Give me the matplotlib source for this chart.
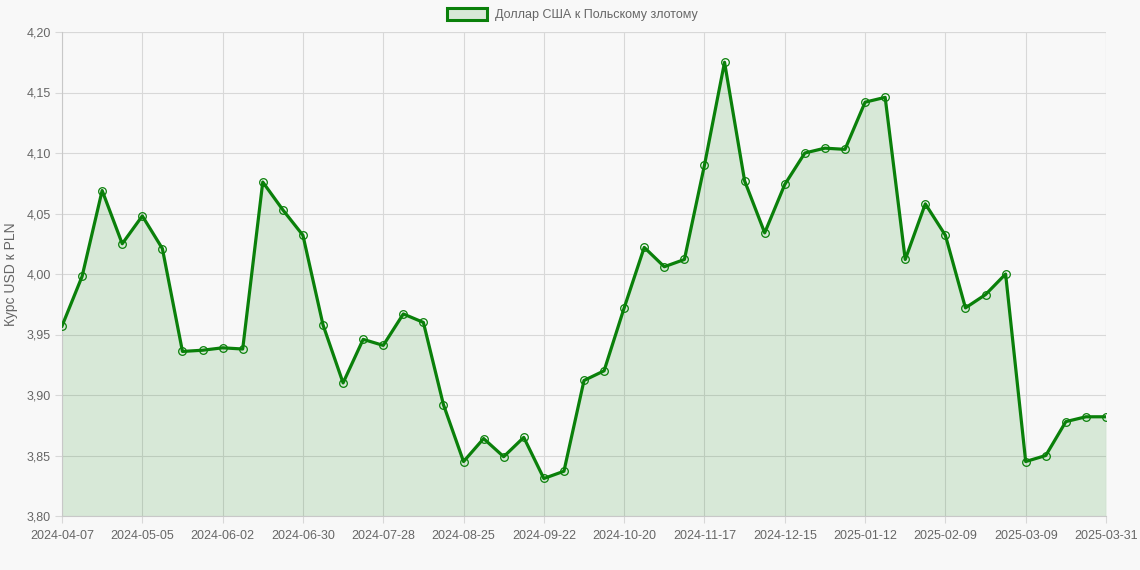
import numpy as np
import matplotlib
matplotlib.use("Agg")
from matplotlib import pyplot as plt
from matplotlib.patches import Patch

plt.rcParams['font.family'] = ['Liberation Sans', 'DejaVu Sans']

# weekly USD/PLN rate
dates = ["2024-04-07", "2024-04-14", "2024-04-21", "2024-04-28", "2024-05-05", "2024-05-12",
         "2024-05-19", "2024-05-26", "2024-06-02", "2024-06-09", "2024-06-16", "2024-06-23",
         "2024-06-30", "2024-07-07", "2024-07-14", "2024-07-21", "2024-07-28", "2024-08-04",
         "2024-08-11", "2024-08-18", "2024-08-25", "2024-09-01", "2024-09-08", "2024-09-15",
         "2024-09-22", "2024-09-29", "2024-10-06", "2024-10-13", "2024-10-20", "2024-10-27",
         "2024-11-03", "2024-11-10", "2024-11-17", "2024-11-24", "2024-12-01", "2024-12-08",
         "2024-12-15", "2024-12-22", "2024-12-29", "2025-01-05", "2025-01-12", "2025-01-19",
         "2025-01-26", "2025-02-02", "2025-02-09", "2025-02-16", "2025-02-23", "2025-03-02",
         "2025-03-09", "2025-03-16", "2025-03-23", "2025-03-30", "2025-03-31"]
rates = [3.957, 3.998, 4.069, 4.025, 4.048, 4.021, 3.936, 3.937, 3.939, 3.938,
         4.076, 4.053, 4.032, 3.958, 3.910, 3.946, 3.941, 3.967, 3.960, 3.892,
         3.845, 3.864, 3.849, 3.865, 3.831, 3.837, 3.912, 3.920, 3.972, 4.022,
         4.006, 4.012, 4.090, 4.175, 4.077, 4.034, 4.074, 4.100, 4.104, 4.103,
         4.142, 4.146, 4.012, 4.058, 4.032, 3.972, 3.983, 4.000, 3.845, 3.850,
         3.878, 3.882, 3.882]
shown_ticks = [0, 4, 8, 12, 16, 20, 24, 28, 32, 36, 40, 44, 48, 52]
y_ticks = [3.80, 3.85, 3.90, 3.95, 4.00, 4.05, 4.10, 4.15, 4.20]

bg = "#f8f8f8"
line_green = "#0a800a"
fill_green = (0.0, 0.5, 0.0, 0.13)
legend_fill = "#d8e9d6"
grid_col = "#d8d8d8"
text_col = "#666666"

fig = plt.figure(figsize=(11.4, 5.7), dpi=100, facecolor=bg)
ax = fig.add_axes([62 / 1140, 54 / 570, 1044 / 1140, 484 / 570])
ax.set_facecolor(bg)

x = np.arange(len(rates))
ax.fill_between(x, 3.80, rates, color=fill_green, zorder=1, linewidth=0)
ax.plot(x, rates, color=line_green, linewidth=2.3, zorder=3, solid_joinstyle='round')
ax.plot(x, rates, linestyle='none', marker='o', markersize=5.5,
        markerfacecolor='none', markeredgecolor=line_green, markeredgewidth=0.9, zorder=4)

ax.set_xlim(0, len(rates) - 1)
ax.set_ylim(3.80, 4.20)
ax.set_xticks(shown_ticks)
ax.set_xticklabels([dates[i] for i in shown_ticks])
ax.set_yticks(y_ticks)
ax.set_yticklabels([f"{v:.2f}".replace('.', ',') for v in y_ticks])

ax.grid(True, color=grid_col, linewidth=0.8, zorder=0)
ax.set_axisbelow(True)
for side in ['top', 'right']:
    ax.spines[side].set_visible(False)
for side in ['left', 'bottom']:
    ax.spines[side].set_color("#c8c8c8")
    ax.spines[side].set_linewidth(0.8)
ax.axvline(len(rates) - 1, color=grid_col, linewidth=0.8, zorder=0)
ax.axhline(4.20, color=grid_col, linewidth=0.8, zorder=0)

ax.tick_params(axis='both', colors=grid_col, labelcolor=text_col, labelsize=9, length=5, width=0.8)
ax.tick_params(axis='x', pad=5)
ax.tick_params(axis='y', pad=3)

ax.set_ylabel("Курс USD к PLN", color=text_col, fontsize=10, labelpad=6)

handle = Patch(facecolor=legend_fill, edgecolor=line_green, linewidth=2.2)
fig.legend([handle], ["Доллар США к Польскому злотому"], loc='upper center',
           bbox_to_anchor=(0.502, 1.005), frameon=False, fontsize=9, labelcolor=text_col,
           handlelength=3.2, handleheight=1.0, handletextpad=0.6)

fig.savefig("out.png", dpi=100, facecolor=bg)
